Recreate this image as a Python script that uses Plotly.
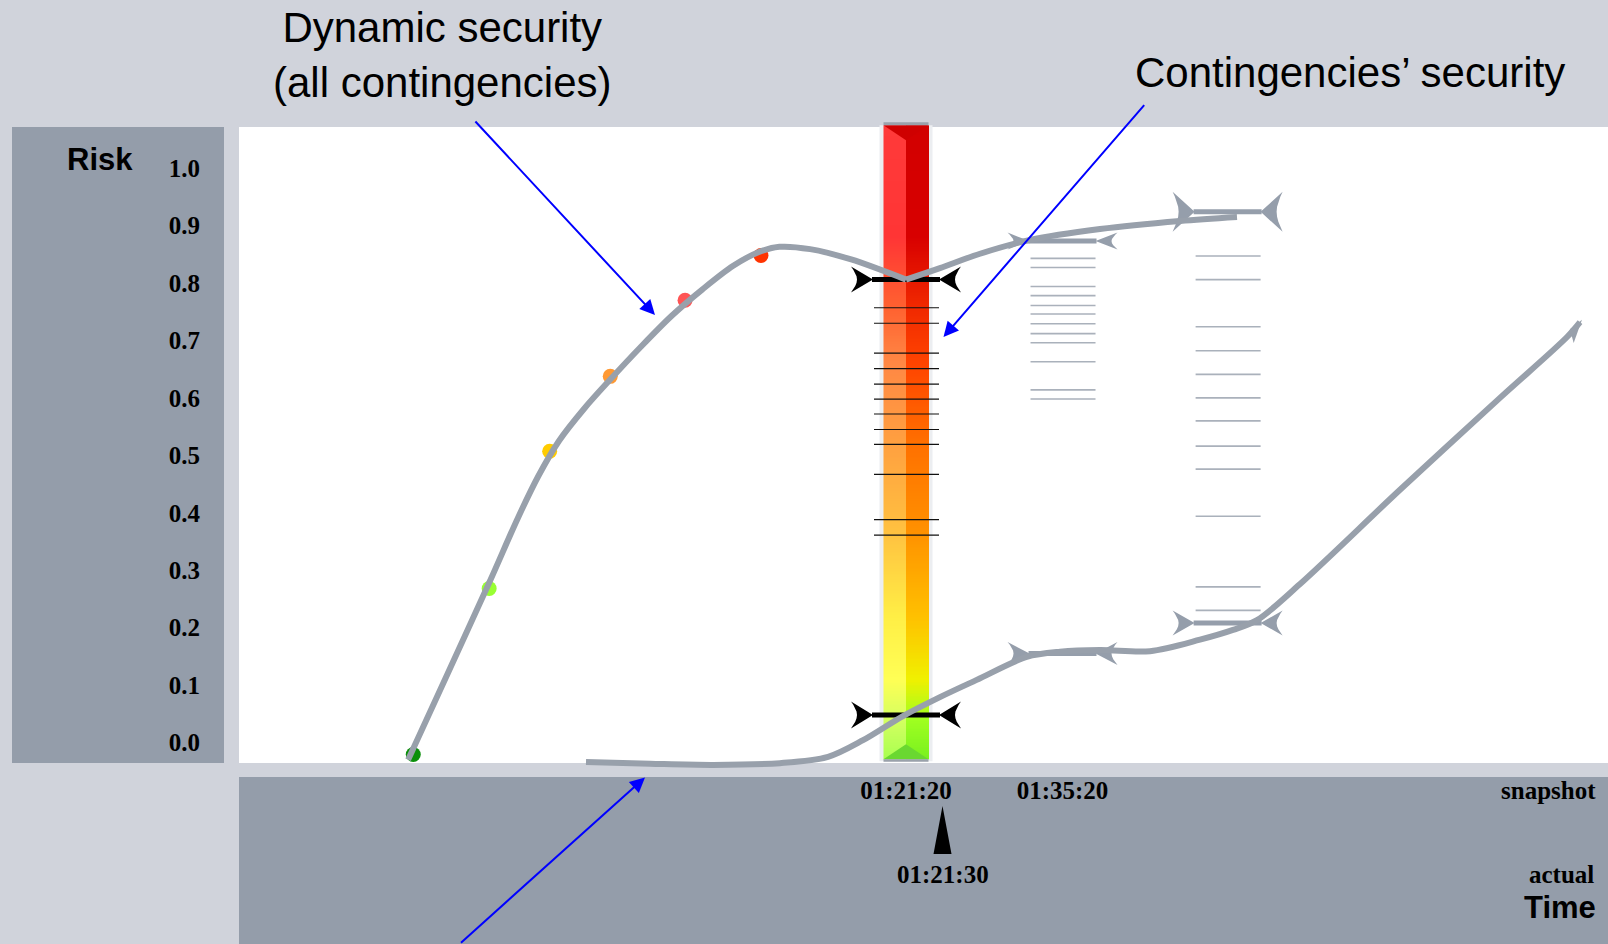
import numpy as np
import plotly.graph_objects as go

# ---------------- data ----------------
Y_TICK_VALUES = [0.0, 0.1, 0.2, 0.3, 0.4, 0.5, 0.6, 0.7, 0.8, 0.9, 1.0]
Y_TICK_TEXT = ["0.0", "0.1", "0.2", "0.3", "0.4", "0.5", "0.6", "0.7", "0.8", "0.9", "1.0"]

# snapshot times in minutes (01:21:20, 01:35:20, next snapshot)
SNAPSHOT_TIMES = [81.333, 95.333, 110.1]
SNAPSHOT_TICK_TEXT = ["01:21:20", "01:35:20"]
ACTUAL_TIME_TEXT = "01:21:30"

# dynamic security (max risk over all contingencies)
DYN_TIME_1 = [36.80, 40.29, 44.14, 46.62, 48.45, 50.29, 52.58, 54.88, 57.62, 60.38, 63.13, 65.88,
              68.18, 70.01, 72.76, 76.43, 81.333]
DYN_RISK_1 = [-0.030, 0.118, 0.282, 0.391, 0.464, 0.525, 0.582, 0.632, 0.689, 0.743, 0.789, 0.830,
              0.854, 0.863, 0.859, 0.841, 0.806]
DYN_TIME_2 = [81.333, 84.37, 87.95, 92.42, 98.69, 105.84, 110.94]
DYN_RISK_2 = [0.806, 0.826, 0.851, 0.875, 0.894, 0.908, 0.915]

# lower (minimum risk) trend
LOW_TIME = [52.71, 58.44, 64.07, 70.06, 74.36, 77.49, 81.06, 84.37, 87.66, 92.13, 95.11, 98.69,
            103.16, 107.63, 110.58, 112.73, 116.58, 125.52, 134.46, 140.46, 141.62]
LOW_RISK = [-0.034, -0.037, -0.039, -0.036, -0.025, 0.004, 0.046, 0.079, 0.109, 0.149, 0.158, 0.161,
            0.159, 0.179, 0.196, 0.213, 0.276, 0.440, 0.600, 0.706, 0.732]

# coloured points on the dynamic security curve
DOT_TIME = [37.26, 44.05, 49.46, 54.88, 61.57, 68.36]
DOT_RISK = [-0.021, 0.268, 0.507, 0.6375, 0.770, 0.848]
DOT_COLORS = ["#0a8f0a", "#99ff33", "#ffcc00", "#ff9933", "#ff5555", "#ff3300"]

# contingencies' risk at each snapshot
CONT_RISK_S1 = [0.757, 0.730, 0.678, 0.651, 0.624, 0.598, 0.572, 0.545, 0.519, 0.467, 0.388, 0.361]
CONT_RISK_S2 = [0.843, 0.827, 0.794, 0.778, 0.761, 0.746, 0.729, 0.712, 0.696, 0.663, 0.614, 0.598]
CONT_RISK_S3 = [0.847, 0.806, 0.724, 0.682, 0.641, 0.600, 0.560, 0.516, 0.476, 0.394, 0.271, 0.230]
CONT_RISK = [CONT_RISK_S1, CONT_RISK_S2, CONT_RISK_S3]

RANGE_MAX = [0.806, 0.873, 0.924]
RANGE_MIN = [0.048, 0.155, 0.208]

# ---------------- layout constants ----------------
W, H = 1608, 944
PL, PRR, PT, PB = 239, 1608, 122, 777          # plot area in pixels
X0, X1 = 21.673, 144.124                          # minutes
Y0, Y1 = -0.0601, 1.0804                          # risk

PAPER_BG = "#d0d3db"
PANEL = "#949daa"
CURVE = "#98a0ab"
LADDER = "#aab1bb"
SERIF = "Liberation Serif"
SANS = "Liberation Sans"


def tx(p):
    return X0 + (p - PL) / (PRR - PL) * (X1 - X0)


def ty(p):
    return Y1 - (p - PT) / (PB - PT) * (Y1 - Y0)


def px(x):
    return PL + (x - X0) / (X1 - X0) * (PRR - PL)


def py(y):
    return PT + (Y1 - y) / (Y1 - Y0) * (PB - PT)


def paper_x(p):
    return (p - PL) / (PRR - PL)


def paper_y(p):
    return (PB - p) / (PB - PT)


fig = go.Figure()

# ---------------- gradient risk bar ----------------
bar_cx = px(SNAPSHOT_TIMES[0])
bar_hw = 22.5
bar_top_px, bar_bot_px = 125.3, 759.3
N = 400
edges = np.linspace(ty(bar_bot_px), ty(bar_top_px), N + 1)
centers = (edges[:-1] + edges[1:]) / 2
zmin, zmax = edges[0], edges[-1]

LIGHT_STOPS = [(-0.03, "#a8ff50"), (0.04, "#d4ff60"), (0.11, "#ffff55"), (0.22, "#ffee45"),
               (0.37, "#ffc040"), (0.52, "#ffa040"), (0.66, "#ff8844"), (0.76, "#ff6030"),
               (0.88, "#ff3535"), (1.075, "#ff3a3a")]
DARK_STOPS = [(-0.03, "#78f020"), (0.04, "#a0ff20"), (0.11, "#f0f000"), (0.22, "#ffc000"),
              (0.37, "#ff9000"), (0.52, "#ff7000"), (0.66, "#ff4400"), (0.76, "#f02800"),
              (0.88, "#d80000"), (1.075, "#d20000")]


def make_scale(stops):
    out = []
    for r, c in stops:
        f = min(max((r - zmin) / (zmax - zmin), 0.0), 1.0)
        out.append([f, c])
    out[0][0] = 0.0
    out[-1][0] = 1.0
    return out


for (xa, xb), stops in [((bar_cx - bar_hw, bar_cx), LIGHT_STOPS), ((bar_cx, bar_cx + bar_hw), DARK_STOPS)]:
    fig.add_trace(go.Heatmap(
        x=[tx(xa), tx(xb)], y=edges, z=centers.reshape(-1, 1),
        colorscale=make_scale(stops), zmin=zmin, zmax=zmax,
        showscale=False, hoverinfo="skip"))


def poly(points_px, color):
    xs = [tx(p[0]) for p in points_px] + [tx(points_px[0][0])]
    ys = [ty(p[1]) for p in points_px] + [ty(points_px[0][1])]
    fig.add_trace(go.Scatter(x=xs, y=ys, mode="lines", fill="toself", fillcolor=color,
                             line=dict(width=0, color=color), hoverinfo="skip", showlegend=False))


# bevels and caps of the bar
poly([(bar_cx - bar_hw, bar_top_px), (bar_cx + bar_hw, bar_top_px), (bar_cx, bar_top_px + 15)], "#cf0000")
poly([(bar_cx - bar_hw, bar_bot_px), (bar_cx + bar_hw, bar_bot_px), (bar_cx, bar_bot_px - 15)], "#6ad830")
poly([(bar_cx - bar_hw, bar_top_px - 3), (bar_cx + bar_hw, bar_top_px - 3),
      (bar_cx + bar_hw, bar_top_px), (bar_cx - bar_hw, bar_top_px)], "#9aa1ab")
poly([(bar_cx - bar_hw, bar_bot_px), (bar_cx + bar_hw, bar_bot_px),
      (bar_cx + bar_hw, bar_bot_px + 2.5), (bar_cx - bar_hw, bar_bot_px + 2.5)], "#9aa1ab")

# ---------------- contingency ladders ----------------
for k, (t, risks) in enumerate(zip(SNAPSHOT_TIMES, CONT_RISK)):
    c = px(t)
    xs, ys = [], []
    for r in risks:
        xs += [tx(c - 32), tx(c + 33), None]
        ys += [r, r, None]
    fig.add_trace(go.Scatter(x=xs, y=ys, mode="lines",
                             line=dict(color="#111111" if k == 0 else LADDER, width=1.2 if k == 0 else 1.6),
                             hoverinfo="skip", showlegend=False))

# ---------------- range markers ----------------
CAP_H = [(26, 27), (17, 23), (40, 25)]
for k, t in enumerate(SNAPSHOT_TIMES):
    c = px(t)
    col = "#000000" if k == 0 else "#959eab"
    for j, r in enumerate([RANGE_MAX[k], RANGE_MIN[k]]):
        yl = py(r)
        h = CAP_H[k][j]
        fig.add_trace(go.Scatter(x=[tx(c - 34), tx(c + 34)], y=[r, r], mode="lines",
                                 line=dict(color=col, width=5), hoverinfo="skip", showlegend=False))
        for side in (-1, 1):
            tip = (c + side * 33, yl)
            pts = [tip, (c + side * 55, yl - h / 2)]
            for s in np.linspace(0, 1, 9)[1:-1]:
                pts.append((c + side * (55 - 6 * np.sin(np.pi * s)), yl - h / 2 + s * h))
            pts.append((c + side * 55, yl + h / 2))
            poly(pts, col)

# ---------------- coloured dots ----------------
fig.add_trace(go.Scatter(x=DOT_TIME, y=DOT_RISK, mode="markers",
                         marker=dict(size=15, color=DOT_COLORS, line=dict(width=0)),
                         hoverinfo="skip", showlegend=False))

# ---------------- trend curves ----------------
for xs, ys in [(DYN_TIME_1, DYN_RISK_1), (DYN_TIME_2, DYN_RISK_2), (LOW_TIME, LOW_RISK)]:
    fig.add_trace(go.Scatter(x=xs, y=ys, mode="lines",
                             line=dict(color=CURVE, width=6, shape="spline", smoothing=0.9),
                             hoverinfo="skip", showlegend=False))

# hook arrow head at the end of lower curve
ex, ey = px(LOW_TIME[-1]), py(LOW_RISK[-1])
qx, qy = px(LOW_TIME[-2]), py(LOW_RISK[-2])
d = np.array([ex - qx, ey - qy])
d = d / np.linalg.norm(d)
n = np.array([-d[1], d[0]])
if n[1] < 0:
    n = -n
E = np.array([ex, ey])
pts = [E + 3 * d, E - 20 * d + 9 * n, E - 12 * d - 3 * n]
poly([tuple(p) for p in pts], CURVE)

# ---------------- background shapes ----------------
shapes = [
    dict(type="rect", xref="paper", yref="paper", x0=0, x1=1, y0=paper_y(763), y1=paper_y(127),
         fillcolor="white", line=dict(width=0), layer="below"),
    dict(type="rect", xref="paper", yref="paper", x0=paper_x(12), x1=paper_x(224), y0=paper_y(763),
         y1=paper_y(127), fillcolor=PANEL, line=dict(width=0), layer="below"),
    dict(type="rect", xref="paper", yref="paper", x0=0, x1=1, y0=paper_y(944), y1=paper_y(777),
         fillcolor=PANEL, line=dict(width=0), layer="below"),
    # soft halo around the bar
    dict(type="rect", xref="x", yref="y", x0=tx(bar_cx - bar_hw - 4), x1=tx(bar_cx + bar_hw + 4),
         y0=ty(bar_bot_px + 2), y1=ty(bar_top_px), fillcolor="#eceef1", line=dict(width=0), layer="below"),
    # pointer from actual time to snapshot
    dict(type="path", xref="paper", yref="paper",
         path="M {:.5f} {:.5f} L {:.5f} {:.5f} L {:.5f} {:.5f} Z".format(
             paper_x(942.5), paper_y(806), paper_x(951.5), paper_y(854), paper_x(933.5), paper_y(854)),
         fillcolor="black", line=dict(width=0), layer="above"),
]

# ---------------- annotations ----------------
ann = []


def text(t, x, y, size, family, xanchor="center", bold=False):
    ann.append(dict(text=t, xref="paper", yref="paper", x=paper_x(x), y=paper_y(y),
                    xanchor=xanchor, yanchor="middle", showarrow=False,
                    font=dict(family=family, size=size, color="black", weight="bold" if bold else "normal")))


text("Dynamic security<br>(all contingencies)", 442, 55.4, 42, SANS)
text("Contingencies’ security", 1349.6, 72, 42, SANS)
text("Risk", 100, 159, 31, SANS, bold=True)
text("snapshot", 1598, 790, 25, SERIF, xanchor="right", bold=True)
text(ACTUAL_TIME_TEXT, 942.5, 874, 25, SERIF, bold=True)
text("actual", 1596, 874, 25, SERIF, xanchor="right", bold=True)
text("Time", 1598, 907.6, 31, SANS, xanchor="right", bold=True)

BLUE_ARROWS = [((655, 315), (474, 120)), ((943.5, 337), (1145.5, 103.6)), ((645, 777.5), (459.5, 944))]
for (hx, hy), (tx_, ty_) in BLUE_ARROWS:
    ann.append(dict(text="", xref="paper", yref="paper", x=paper_x(hx), y=paper_y(hy),
                    ax=tx_ - hx, ay=ty_ - hy, showarrow=True, arrowhead=2, arrowsize=1.5,
                    arrowwidth=2, arrowcolor="#0000ff", standoff=0))

fig.update_layout(
    width=W, height=H,
    margin=dict(l=PL, r=W - PRR, t=PT, b=H - PB, pad=0),
    paper_bgcolor=PAPER_BG, plot_bgcolor="rgba(0,0,0,0)",
    showlegend=False, shapes=shapes, annotations=ann,
    xaxis=dict(range=[X0, X1], showgrid=False, zeroline=False, showline=False, ticks="",
               tickmode="array", tickvals=SNAPSHOT_TIMES[:2], ticktext=SNAPSHOT_TICK_TEXT,
               tickfont=dict(family=SERIF, size=25, color="black", weight="bold"),
               ticklabelstandoff=-4, fixedrange=True),
    yaxis=dict(range=[Y0, Y1], showgrid=False, zeroline=False, showline=False, ticks="",
               tickmode="array", tickvals=Y_TICK_VALUES, ticktext=Y_TICK_TEXT,
               tickfont=dict(family=SERIF, size=25, color="black", weight="bold"),
               ticklabelstandoff=38, fixedrange=True),
)

fig.write_html("out.html", config={"displayModeBar": False},
               post_script="document.body.style.margin='0';document.body.style.padding='0';document.body.style.overflow='hidden';")
